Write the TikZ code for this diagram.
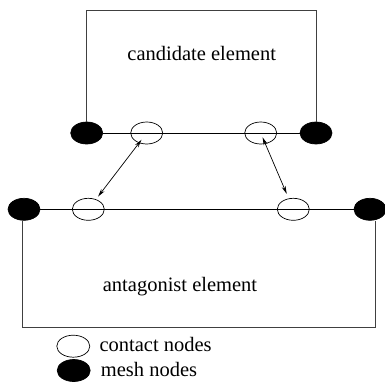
\documentclass[tikz,border=0pt]{standalone}
\usepackage{fontspec}
\setmainfont{Liberation Serif}
\usetikzlibrary{shapes.geometric,arrows.meta}
\begin{document}
\begin{tikzpicture}[x=1pt,y=-1pt,
  cnode/.style={ellipse,draw,line width=0.7pt,minimum width=32pt,minimum height=22pt,inner sep=0pt},
  mnode/.style={ellipse,draw,fill=black,line width=0.7pt,minimum width=32pt,minimum height=22pt,inner sep=0pt},
  boxline/.style={line width=0.9pt,black!75},
  mline/.style={line width=0.8pt},
  dbl/.style={line width=0.7pt,{Stealth[length=8pt,width=4pt]}-{Stealth[length=8pt,width=4pt]}},
  lbl/.style={font=\fontsize{20.5}{24}\selectfont,inner sep=0pt}]
\useasboundingbox (0,0) rectangle (385,391);
% candidate element
\node[mnode] (m1) at (86.7,133) {};
\node[mnode] (m2) at (316,133) {};
\node[cnode] (c1) at (146.7,133) {};
\node[cnode] (c2) at (260.7,133) {};
\coordinate (ctop) at (0,10);
\draw[boxline] (m1) -- (m1 |- ctop) -- (m2 |- ctop) -- (m2);
\draw[mline] (m1) -- (m2);
\node[lbl,anchor=base] (cand) at (201.7,60) {candidate element};
% antagonist element
\node[mnode] (m3) at (24,209.3) {};
\node[mnode] (m4) at (370,209.3) {};
\node[cnode] (a1) at (88.3,209.3) {};
\node[cnode] (a2) at (293.3,209.3) {};
\coordinate (bl) at (22,327.7);
\coordinate (br) at (375.5,327.7);
\draw[boxline] (bl |- m3.south) -- (bl) -- (br) -- (br |- m4.south);
\draw[mline] (m3) -- (m4);
\node[lbl,anchor=base] (anta) at (180,291) {antagonist element};
% arrows
\draw[dbl,shorten <=8.5pt,shorten >=16pt] (c1.center) -- (a1.center);
\draw[dbl,shorten <=4.6pt,shorten >=16.7pt] (c2.center) -- (a2.center);
% legend
\node[cnode,minimum width=33pt] (lc) at (73.3,346.2) {};
\node[mnode,minimum width=33pt] (lm) at (73.7,370.5) {};
\node[lbl,anchor=base west] (lct) at (99.3,351.7) {contact nodes};
\node[lbl,anchor=base west] (lmt) at (100.7,376) {mesh nodes};
\end{tikzpicture}
\end{document}
